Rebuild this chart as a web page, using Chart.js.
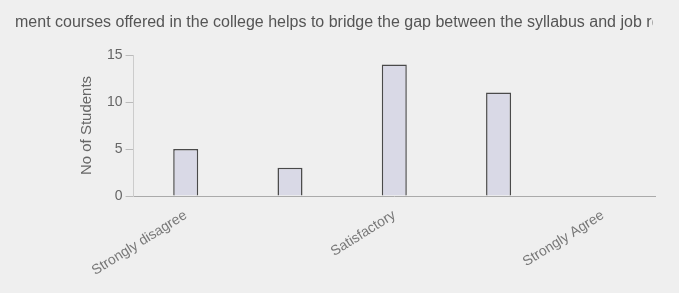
<!DOCTYPE html>
<html>
<head>
<meta charset="utf-8">
<script src="https://cdn.jsdelivr.net/npm/chart.js@4/dist/chart.umd.min.js"></script>
<style>
  body { margin: 0; background: #efefef; }
  #wrap { width: 679px; height: 293px; }
</style>
</head>
<body>
<div id="wrap"><canvas id="graph-courses"></canvas></div>
<script>
var categories = ["Strongly disagree", "Disagree", "Satisfactory", "Agree", "Strongly Agree"];
var students = [5, 3, 14, 11, 0];
var yTicks = [0, 5, 10, 15];
var chartTitle = "Skill development courses offered in the college helps to bridge the gap between the syllabus and job requirements";
var hiddenPrefix = "Skill develop"; // part of the title cut off on the left

Chart.defaults.font.family = "'Liberation Sans', Arial, sans-serif";
Chart.defaults.color = "#666";

// the title is wider than the shot, so draw it unsqueezed and cut at both sides
var wideTitle = {
    id: "wideTitle",
    afterDraw: function (chart) {
        var ctx = chart.ctx;
        ctx.save();
        ctx.font = "16px 'Liberation Sans', Arial, sans-serif";
        var x0 = 15 - ctx.measureText(hiddenPrefix).width;
        var cutRight = x0 + ctx.measureText(chartTitle.slice(0, chartTitle.indexOf("job r") + 5)).width;
        ctx.beginPath();
        ctx.rect(15, 0, cutRight - 15 + 1, 45);
        ctx.clip();
        ctx.fillStyle = "#555";
        ctx.textAlign = "left";
        ctx.textBaseline = "middle";
        ctx.fillText(chartTitle, x0, 23);
        ctx.restore();
    }
};

new Chart("graph-courses", {
    type: "bar",
    data: {
        labels: categories,
        datasets: [{
            data: students,
            backgroundColor: "#d9d9e6",
            borderColor: "#4a4a4a",
            borderWidth: 1.5,
            barPercentage: 0.3,
            categoryPercentage: 0.8
        }]
    },
    options: {
        responsive: true,
        maintainAspectRatio: false,
        animation: false,
        layout: { padding: { left: 78, right: 24, top: 55, bottom: 11 } },
        plugins: {
            legend: { display: false },
            tooltip: { enabled: false },
            title: { display: false }
        },
        scales: {
            x: {
                grid: { display: false },
                border: { color: "#aaa" },
                ticks: {
                    autoSkip: false,
                    minRotation: 32,
                    maxRotation: 32,
                    font: { size: 14 },
                    color: "#777",
                    callback: function (val, i) {
                        return i % 2 === 0 ? categories[i] : "";
                    }
                }
            },
            y: {
                min: 0,
                max: 15,
                afterBuildTicks: function (axis) {
                    axis.ticks = yTicks.map(function (v) { return { value: v }; });
                },
                grid: { drawOnChartArea: false, tickLength: 8, color: "#bbb" },
                border: { color: "#ccc" },
                ticks: { font: { size: 14 }, color: "#666" },
                title: {
                    display: true,
                    text: "No of Students",
                    color: "#666",
                    font: { size: 15 },
                    padding: { top: 0, bottom: 8 }
                }
            }
        }
    },
    plugins: [wideTitle]
});
</script>
</body>
</html>
